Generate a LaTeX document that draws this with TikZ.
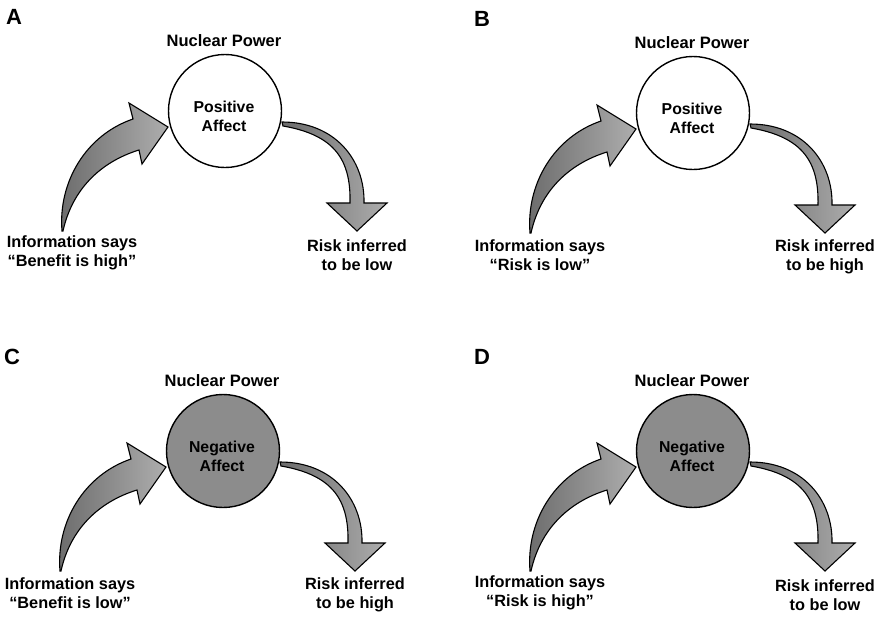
\documentclass[tikz,border=0pt]{standalone}
\usepackage{fontspec}
\setmainfont{Liberation Sans}
\tikzset{
  panellabel/.style={font=\fontsize{22}{22}\selectfont\bfseries, inner sep=0pt},
  titletext/.style={font=\fontsize{16.5}{19}\selectfont\bfseries, inner sep=0pt},
  captext/.style={font=\fontsize{16.3}{18.5}\selectfont\bfseries, align=center, inner sep=0pt},
  innertext/.style={font=\fontsize{15.8}{19}\selectfont\bfseries, align=center, inner sep=0pt},
  poscircle/.style={circle, draw=black, line width=1.4pt, fill=white, minimum size=113pt, inner sep=0pt},
  negcircle/.style={circle, draw=black, line width=1.4pt, fill=black!45, minimum size=113pt, inner sep=0pt},
  arrowshape/.style={draw=black, line width=1.1pt, line join=miter, left color=black!58, right color=black!32}
}
\newcommand\affectpanel[8]{%
\begin{scope}[shift={(#2,#3)}]
  \node[panellabel] (#1lab) at (14,17) {#1};
  \node[titletext] (#1np) at (224,41) {Nuclear Power};
  \node[#4] (#1c) at (225,111) {};
  \node[innertext] (#1t) at (224,116) {#5};
  \node[captext] (#1info) at (72,253) {#6};
  \node[captext] (#1risk) at (357,255) {#7\\#8};
  \draw[arrowshape] (62,231) .. controls (58,182) and (86,135) .. (133,119)
     -- (129,103) -- (168,127) -- (142,164) -- (139,150)
     .. controls (100,162) and (72,190) .. (63,231) -- cycle;
  \draw[arrowshape] (282,122) .. controls (335,122) and (365,160) .. (364,203)
     -- (387,203) -- (357,231) -- (327,203) -- (350,203)
     .. controls (351,160) and (335,135) .. (283,126) -- cycle;
\end{scope}}
\begin{document}
\begin{tikzpicture}[x=1pt,y=-1pt]
\useasboundingbox (0,0) rectangle (885,616);
\affectpanel{A}{0}{0}{poscircle}{Positive\\Affect}{Information says\\“Benefit is high”}{Risk inferred}{to be low}
\affectpanel{B}{468}{2}{poscircle}{Positive\\Affect}{Information says\\“Risk is low”}{Risk inferred}{to be high}
\affectpanel{C}{-2}{340}{negcircle}{Negative\\Affect}{Information says\\“Benefit is low”}{Risk inferred}{to be high}
\affectpanel{D}{468}{340}{negcircle}{Negative\\Affect}{Information says\\“Risk is high”}{Risk inferred}{to be low}
\end{tikzpicture}
\end{document}
